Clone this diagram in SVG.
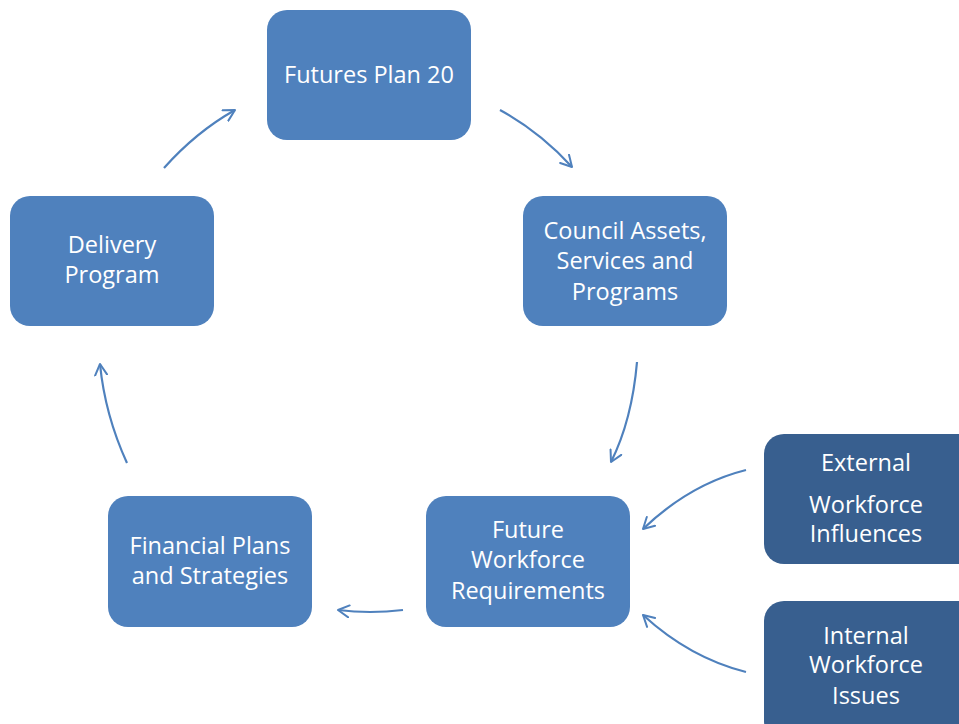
<svg xmlns="http://www.w3.org/2000/svg" width="959" height="724" viewBox="0 0 959 724">
  <defs>
    <marker id="chev" viewBox="0 0 14 14" refX="12" refY="7" markerWidth="14" markerHeight="14" markerUnits="userSpaceOnUse" orient="auto">
      <path d="M1,1 L12,7 L1,13" fill="none" stroke="#4F81BD" stroke-width="2" stroke-linecap="round" stroke-linejoin="round"/>
    </marker>
  </defs>
  <style>
    .box { fill: #4F81BD; }
    .dark { fill: #385F8F; }
    .lbl { fill: #FFFFFF; font-family: "Open Sans", "Liberation Sans", sans-serif; font-size: 23.5px; text-anchor: middle; }
    .arc { fill: none; stroke: #4F81BD; stroke-width: 2.2; marker-end: url(#chev); }
  </style>
  <rect width="959" height="724" fill="#FFFFFF"/>

  <g id="futures-plan">
    <rect class="box" x="267" y="10" width="204" height="130" rx="20"/>
    <text class="lbl" x="369" y="83">Futures Plan 20</text>
  </g>
  <g id="council-assets">
    <rect class="box" x="523" y="196" width="204" height="130" rx="20"/>
    <text class="lbl" x="625" y="239">Council Assets,</text>
    <text class="lbl" x="625" y="269">Services and</text>
    <text class="lbl" x="625" y="300">Programs</text>
  </g>
  <g id="workforce-requirements">
    <rect class="box" x="426" y="496" width="204" height="131" rx="20"/>
    <text class="lbl" x="528" y="538">Future</text>
    <text class="lbl" x="528" y="568">Workforce</text>
    <text class="lbl" x="528" y="599">Requirements</text>
  </g>
  <g id="financial-plans">
    <rect class="box" x="108" y="496" width="204" height="131" rx="20"/>
    <text class="lbl" x="210" y="554">Financial Plans</text>
    <text class="lbl" x="210" y="584">and Strategies</text>
  </g>
  <g id="delivery-program">
    <rect class="box" x="10" y="196" width="204" height="130" rx="20"/>
    <text class="lbl" x="112" y="253">Delivery</text>
    <text class="lbl" x="112" y="283">Program</text>
  </g>
  <g id="external-influences">
    <rect class="dark" x="764" y="434" width="220" height="130" rx="20"/>
    <text class="lbl" x="866" y="471">External</text>
    <text class="lbl" x="866" y="513">Workforce</text>
    <text class="lbl" x="866" y="542">Influences</text>
  </g>
  <g id="internal-issues">
    <rect class="dark" x="764" y="601" width="220" height="140" rx="20"/>
    <text class="lbl" x="866" y="644">Internal</text>
    <text class="lbl" x="866" y="673">Workforce</text>
    <text class="lbl" x="866" y="704">Issues</text>
  </g>

  <g id="connectors">
    <path class="arc" d="M164,168 Q196,132 235,110"/>
    <path class="arc" d="M500,110 Q540,132 572,167"/>
    <path class="arc" d="M637,362 Q632,420 611,462"/>
    <path class="arc" d="M403,610 Q370,614 338,610"/>
    <path class="arc" d="M127,463 Q105,415 100,364"/>
    <path class="arc" d="M746,470 Q690,484 643,529"/>
    <path class="arc" d="M746,672 Q690,658 643,615"/>
  </g>
</svg>
